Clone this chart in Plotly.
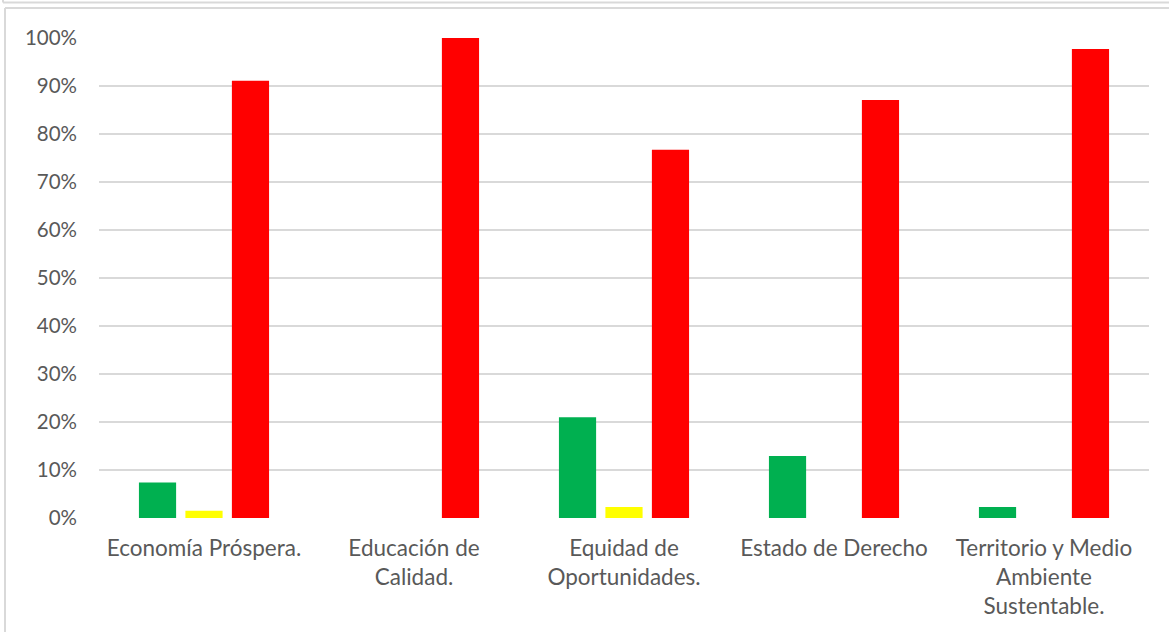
import plotly.graph_objects as go

categories = ["Economía Próspera.", "Educación de<br>Calidad.", "Equidad de<br>Oportunidades.",
              "Estado de Derecho", "Territorio y Medio<br>Ambiente<br>Sustentable."]
verde = [0.074, 0.0, 0.21, 0.129, 0.023]
amarillo = [0.015, 0.0, 0.023, 0.0, 0.0]
rojo = [0.911, 1.0, 0.767, 0.871, 0.977]
y_ticks = [0, 0.1, 0.2, 0.3, 0.4, 0.5, 0.6, 0.7, 0.8, 0.9, 1.0]

fig = go.Figure()
fig.add_trace(go.Bar(x=categories, y=verde, name="Verde", marker=dict(color="#00B050", line=dict(width=0))))
fig.add_trace(go.Bar(x=categories, y=amarillo, name="Amarillo", marker=dict(color="#FFFF00", line=dict(width=0))))
fig.add_trace(go.Bar(x=categories, y=rojo, name="Rojo", marker=dict(color="#FF0000", line=dict(width=0))))

W, H = 1169, 632
L, R, T, B = 99, 20, 38, 114
pw, ph = W - L - R, H - T - B

def px(x):
    return (x - L) / pw

def py(y):
    return (H - B - y) / ph

border = "#D9D9D9"
shapes = [
    dict(type="line", xref="paper", yref="paper", x0=px(5), x1=px(W + 5), y0=py(8), y1=py(8),
         line=dict(color=border, width=2)),
    dict(type="line", xref="paper", yref="paper", x0=px(5), x1=px(5), y0=py(8), y1=py(H + 5),
         line=dict(color=border, width=2)),
    dict(type="line", xref="paper", yref="paper", x0=px(3), x1=px(W + 5), y0=py(2.5), y1=py(2.5),
         line=dict(color=border, width=2)),
    dict(type="line", xref="paper", yref="paper", x0=px(3), x1=px(3), y0=py(2.5), y1=py(-5),
         line=dict(color=border, width=2)),
]

fs = 20.5
fx = 22.5
fig.update_layout(
    width=W, height=H,
    margin=dict(l=L, r=R, t=T, b=B, autoexpand=False),
    paper_bgcolor="white", plot_bgcolor="white",
    barmode="group", bargap=0.336, bargroupgap=0.2,
    showlegend=False,
    font=dict(family="Lato", size=fs, color="#595959"),
    shapes=shapes,
    xaxis=dict(showgrid=False, zeroline=False, showline=False, ticks="",
               ticklabelstandoff=14, tickfont=dict(family="Lato", size=fx, color="#595959")),
    yaxis=dict(range=[0, 1.0], tickvals=y_ticks, tickformat=".0%", showgrid=True,
               gridcolor="#D9D9D9", gridwidth=1.5, zeroline=False, showline=False,
               ticks="", ticklabelstandoff=21, tickfont=dict(family="Lato", size=fs, color="#595959")),
)

fig.write_html("out.html", config={"displayModeBar": False},
               post_script="document.body.style.margin='0';document.body.style.overflow='hidden';")
